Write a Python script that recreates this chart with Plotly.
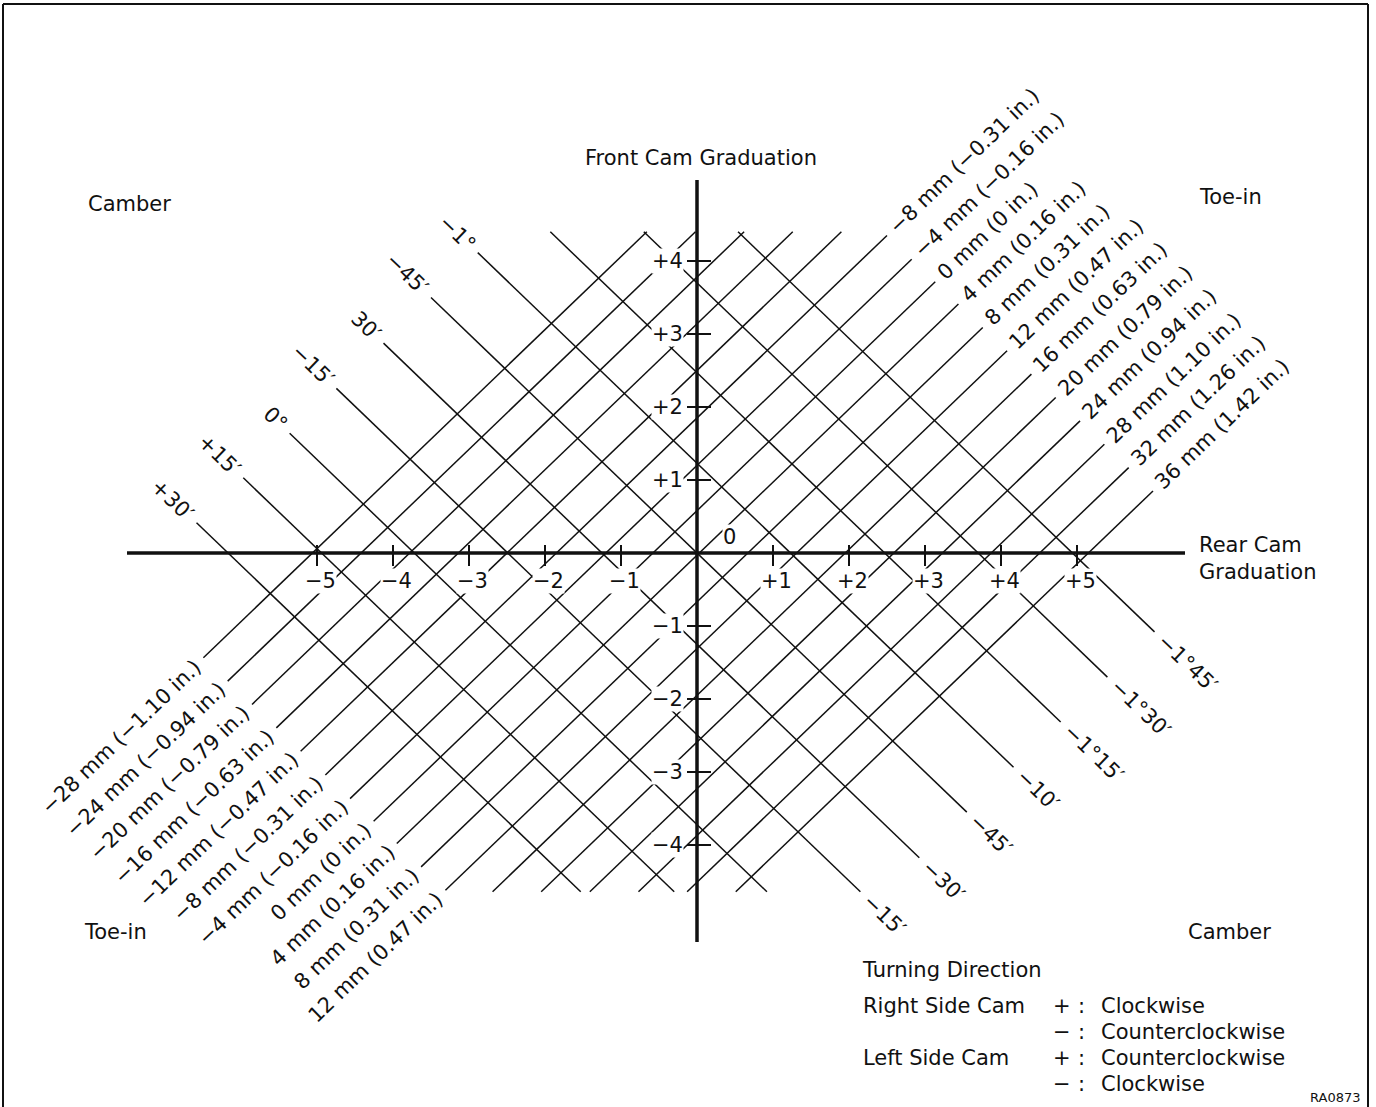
import math
import plotly.graph_objects as go

# ---------------- data ----------------
rear_ticks = [-5, -4, -3, -2, -1, 1, 2, 3, 4, 5]
rear_tick_labels = ["−5", "−4", "−3", "−2", "−1", "+1", "+2", "+3", "+4", "+5"]
front_ticks = [-4, -3, -2, -1, 1, 2, 3, 4]
front_tick_labels = ["−4", "−3", "−2", "−1", "+1", "+2", "+3", "+4"]

# toe-in lines (rising), x-intercept on the rear cam axis
toe_mm = [-28, -24, -20, -16, -12, -8, -4, 0, 4, 8, 12, 16, 20, 24, 28, 32, 36]
toe_in = ["−1.10", "−0.94", "−0.79", "−0.63", "−0.47", "−0.31", "−0.16", "0",
          "0.16", "0.31", "0.47", "0.63", "0.79", "0.94", "1.10", "1.26", "1.42"]
toe_rear_intercept = [-5.06, -4.42, -3.78, -3.14, -2.50, -1.85, -1.20, -0.58, 0.03,
                      0.67, 1.31, 1.95, 2.59, 3.23, 3.87, 4.51, 5.15]

# camber lines (falling), x-intercept on the rear cam axis
camber_min = [30, 15, 0, -15, -30, -45, -60, -75, -90, -105]
camber_rear_intercept = [-6.17, -4.94, -3.72, -2.49, -1.25, 0.0, 1.23, 2.47, 3.70, 4.94]
camber_label_ul = ["+30′", "+15′", "0°", "−15′", "30′", "−45′", "−1°", "", "", ""]
camber_label_lr = ["", "", "", "−15′", "−30′", "−45′", "−10′", "−1°15′", "−1°30′", "−1°45′"]

legend_rows = [("Right Side Cam", "+", "Clockwise"),
               ("", "−", "Counterclockwise"),
               ("Left Side Cam", "+", "Counterclockwise"),
               ("", "−", "Clockwise")]

# ---------------- layout geometry ----------------
W, H = 1376, 1107
PX0, PY0 = 697, 553          # pixel position of the origin
SX, SY = 76.0, 73.0          # pixels per cam graduation


def px2x(px):
    return (px - PX0) / SX


def py2y(py):
    return (PY0 - py) / SY


# extent of the grid (in cam units)
T_UL, T_LR = -7.0, 7.1       # camber lines run between these toe-direction edges
C_LL, C_UR = -7.93, 6.85     # toe lines run between these camber-direction edges
Y_TOP, Y_BOT = 4.40, -4.64

FONT = "DejaVu Sans"
FS = 21
BLACK = "#111111"

CW = {' ': 0.318, '(': 0.390, ')': 0.390, '.': 0.318, '−': 0.838, '+': 0.838,
      'm': 0.974, 'n': 0.634, 'i': 0.278, '°': 0.500, '′': 0.30}
for d in "0123456789":
    CW[d] = 0.636


def text_w(s, fs=FS):
    return sum(CW.get(ch, 0.6) for ch in s) * fs


fig = go.Figure()

# ---------------- diagonal lines ----------------
lx, ly = [], []
toe_ends = []
for t in toe_rear_intercept:
    y_lo = max((C_LL - t) / 2, Y_BOT)
    y_hi = min((C_UR - t) / 2, Y_TOP)
    p_lo = (t + y_lo, y_lo)
    p_hi = (t + y_hi, y_hi)
    lx += [p_lo[0], p_hi[0], None]
    ly += [p_lo[1], p_hi[1], None]
    toe_ends.append((p_lo, p_hi))

camber_ends = []
for c in camber_rear_intercept:
    y_hi = min((c - T_UL) / 2, Y_TOP)
    y_lo = max((c - T_LR) / 2, Y_BOT)
    p_ul = (c - y_hi, y_hi)
    p_lr = (c - y_lo, y_lo)
    lx += [p_ul[0], p_lr[0], None]
    ly += [p_ul[1], p_lr[1], None]
    camber_ends.append((p_ul, p_lr))

fig.add_trace(go.Scatter(x=lx, y=ly, mode="lines",
                         line=dict(color=BLACK, width=1.5),
                         hoverinfo="skip", showlegend=False))

# ---------------- main axes ----------------
fig.add_trace(go.Scatter(x=[px2x(127), px2x(1185), None, 0, 0],
                         y=[0, 0, None, py2y(180), py2y(942)],
                         mode="lines", line=dict(color=BLACK, width=3.5),
                         hoverinfo="skip", showlegend=False))

# tick marks
tx, ty = [], []
for v in rear_ticks:
    tx += [v, v, None]
    ty += [py2y(545), py2y(566), None]
for v in front_ticks:
    tx += [px2x(687), px2x(711), None]
    ty += [v, v, None]
fig.add_trace(go.Scatter(x=tx, y=ty, mode="lines",
                         line=dict(color=BLACK, width=2),
                         hoverinfo="skip", showlegend=False))

ann = []


def add_text(x, y, s, size=FS, xa="center", ya="middle", angle=0, xs=0, ys=0, bg=None):
    d = dict(x=x, y=y, text=s, showarrow=False, xanchor=xa, yanchor=ya,
             textangle=angle, xshift=xs, yshift=ys,
             font=dict(family=FONT, size=size, color=BLACK))
    if bg:
        d["bgcolor"] = bg
        d["borderpad"] = 0
    ann.append(d)


# tick labels (white background breaks the grid lines like the original)
for v, s in zip(rear_ticks, rear_tick_labels):
    add_text(v, py2y(581), s, xs=3, bg="white")
for v, s in zip(front_ticks, front_tick_labels):
    add_text(px2x(684), v, s, xa="right", bg="white")
add_text(px2x(729), py2y(537), "0", bg="white")

# ---------------- diagonal labels ----------------
ang = math.degrees(math.atan2(SY, SX))
ca, sa = math.cos(math.radians(ang)), math.sin(math.radians(ang))
GAP = 8


def fmt_toe(mm, inch):
    return ("−" if mm < 0 else "") + f"{abs(mm)} mm ({inch} in.)"


for mm, inch, (p_lo, p_hi) in zip(toe_mm, toe_in, toe_ends):
    s = fmt_toe(mm, inch)
    d = GAP + text_w(s) / 2
    if mm >= -8:   # upper-right end
        add_text(p_hi[0], p_hi[1], s, angle=-ang, xs=ca * d, ys=sa * d)
    if mm <= 12:   # lower-left end
        add_text(p_lo[0], p_lo[1], s, angle=-ang, xs=-ca * d, ys=-sa * d)

for s_ul, s_lr, (p_ul, p_lr) in zip(camber_label_ul, camber_label_lr, camber_ends):
    if s_ul:
        d = GAP + text_w(s_ul) / 2
        add_text(p_ul[0], p_ul[1], s_ul, angle=ang, xs=-ca * d, ys=sa * d)
    if s_lr:
        d = GAP + text_w(s_lr) / 2
        add_text(p_lr[0], p_lr[1], s_lr, angle=ang, xs=ca * d, ys=-sa * d)

# ---------------- titles / corner labels ----------------
add_text(px2x(701), py2y(158), "Front Cam Graduation")
add_text(px2x(86), py2y(204), "Camber", xa="left")
add_text(px2x(1197), py2y(197), "Toe-in", xa="left")
add_text(px2x(1197), py2y(545), "Rear Cam", xa="left")
add_text(px2x(1197), py2y(572), "Graduation", xa="left")
add_text(px2x(82), py2y(932), "Toe-in", xa="left")
add_text(px2x(1186), py2y(932), "Camber", xa="left")

# ---------------- turning direction legend ----------------
add_text(px2x(860), py2y(970), "Turning Direction", xa="left")
for i, (side, sign, direction) in enumerate(legend_rows):
    yy = py2y(1006 + 26 * i)
    if side:
        add_text(px2x(861), yy, side, xa="left")
    add_text(px2x(1062), yy, sign)
    add_text(px2x(1081), yy, ":")
    add_text(px2x(1099), yy, direction, xa="left")
add_text(px2x(1362), py2y(1097), "RA0873", size=13, xa="right")

# ---------------- frame ----------------
shapes = [
    dict(type="line", xref="paper", yref="paper", x0=3 / W, x1=3 / W, y0=0, y1=1 - 4 / H,
         line=dict(color=BLACK, width=2)),
    dict(type="line", xref="paper", yref="paper", x0=3 / W, x1=1368 / W, y0=1 - 4 / H, y1=1 - 4 / H,
         line=dict(color=BLACK, width=2)),
    dict(type="line", xref="paper", yref="paper", x0=1368 / W, x1=1368 / W, y0=0, y1=1 - 4 / H,
         line=dict(color=BLACK, width=2)),
]

fig.update_layout(
    width=W, height=H,
    margin=dict(l=0, r=0, t=0, b=0),
    paper_bgcolor="white", plot_bgcolor="white",
    xaxis=dict(range=[px2x(0), px2x(W)], visible=False, fixedrange=True),
    yaxis=dict(range=[py2y(H), py2y(0)], visible=False, fixedrange=True),
    annotations=ann, shapes=shapes, showlegend=False,
)

fig.write_html("out.html", config={"displayModeBar": False, "staticPlot": True},
               post_script="document.body.style.margin='0';document.body.style.overflow='hidden';")
